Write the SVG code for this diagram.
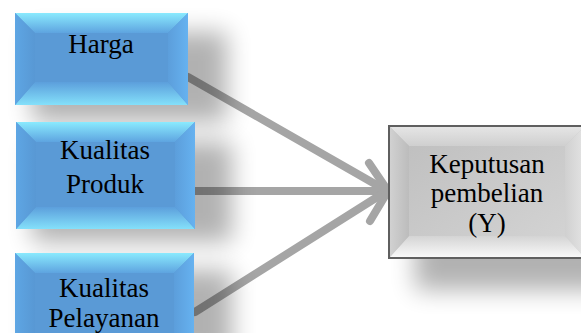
<svg xmlns="http://www.w3.org/2000/svg" width="581" height="333" viewBox="0 0 581 333">
<defs>
<filter id="blur" x="-50%" y="-50%" width="200%" height="200%"><feGaussianBlur stdDeviation="12"/></filter>
<linearGradient id="bTop" x1="0" y1="0" x2="0" y2="1"><stop offset="0" stop-color="#8aeafe"/><stop offset="1" stop-color="#5ea4e0"/></linearGradient>
<linearGradient id="bBot" x1="0" y1="0" x2="0" y2="1"><stop offset="0" stop-color="#5c9fdc"/><stop offset="1" stop-color="#84e0fa"/></linearGradient>
<linearGradient id="bLeft" x1="0" y1="0" x2="1" y2="0"><stop offset="0" stop-color="#5ea6e4"/><stop offset="1" stop-color="#5898d4"/></linearGradient>
<linearGradient id="bRight" x1="0" y1="0" x2="1" y2="0"><stop offset="0" stop-color="#5c9edb"/><stop offset="1" stop-color="#66b2f0"/></linearGradient>
<linearGradient id="gFace" x1="0" y1="0" x2="1" y2="1"><stop offset="0" stop-color="#bdbdbd"/><stop offset="1" stop-color="#d6d6d6"/></linearGradient>
<linearGradient id="gTop" x1="0" y1="0" x2="0" y2="1"><stop offset="0" stop-color="#e6e6e6"/><stop offset="1" stop-color="#cfcfcf"/></linearGradient>
<linearGradient id="gBot" x1="0" y1="0" x2="0" y2="1"><stop offset="0" stop-color="#d4d4d4"/><stop offset="1" stop-color="#fafafa"/></linearGradient>
<linearGradient id="gLeft" x1="0" y1="0" x2="1" y2="0"><stop offset="0" stop-color="#d2d2d2"/><stop offset="1" stop-color="#bcbcbc"/></linearGradient>
<linearGradient id="gRight" x1="0" y1="0" x2="1" y2="0"><stop offset="0" stop-color="#d0d0d0"/><stop offset="1" stop-color="#e4e4e4"/></linearGradient>
</defs>
<style>
.t{font-family:"Liberation Serif","DejaVu Serif",serif;font-size:27px;fill:#000;text-anchor:middle}
.conn{stroke:#a5a5a5;stroke-width:8;fill:none;stroke-linecap:round;stroke-linejoin:round}
.sh{fill:#000;opacity:0.3;filter:url(#blur)}
.face{fill:#5a9ad6}
.gf{fill:url(#gFace)}
</style>
<g id="connectors">
<line class="conn" x1="188" y1="77" x2="382" y2="188"/>
<line class="conn" x1="195" y1="191" x2="384" y2="191"/>
<line class="conn" x1="195" y1="312" x2="382" y2="194"/>
<polyline class="conn" points="369,163 388,191 370,221"/>
</g>
<g id="shadows">
<rect class="sh" x="32" y="32" width="195" height="90"/>
<rect class="sh" x="32" y="142" width="200" height="100"/>
<rect class="sh" x="32" y="270" width="200" height="90"/>
<rect class="sh" x="415" y="185" width="200" height="105"/>
</g>
<g id="harga">
<rect class="face" x="15" y="13" width="173" height="92"/>
<polygon fill="url(#bTop)" points="15,13 188,13 168,33 35,33"/>
<polygon fill="url(#bBot)" points="35,82 168,82 188,105 15,105"/>
<polygon fill="url(#bLeft)" points="15,13 35,33 35,82 15,105"/>
<polygon fill="url(#bRight)" points="188,13 188,105 168,82 168,33"/>
<text class="t" x="101" y="53">Harga</text>
</g>
<g id="kualitas-produk">
<rect class="face" x="16" y="122" width="179" height="107"/>
<polygon fill="url(#bTop)" points="16,122 195,122 175,142 36,142"/>
<polygon fill="url(#bBot)" points="36,207 175,207 195,229 16,229"/>
<polygon fill="url(#bLeft)" points="16,122 36,142 36,207 16,229"/>
<polygon fill="url(#bRight)" points="195,122 195,229 175,207 175,142"/>
<text class="t" x="105" y="159">Kualitas</text>
<text class="t" x="105" y="193">Produk</text>
</g>
<g id="kualitas-pelayanan">
<rect class="face" x="15" y="253" width="179" height="100"/>
<polygon fill="url(#bTop)" points="15,253 194,253 174,273 35,273"/>
<polygon fill="url(#bLeft)" points="15,253 35,273 35,353 15,353"/>
<polygon fill="url(#bRight)" points="194,253 194,353 174,353 174,273"/>
<text class="t" x="104" y="297">Kualitas</text>
<text class="t" x="104" y="327">Pelayanan</text>
</g>
<g id="keputusan">
<rect class="gf" x="389" y="126" width="196" height="132"/>
<polygon fill="url(#gTop)" points="389,126 585,126 565,146 409,146"/>
<polygon fill="url(#gBot)" points="409,236 565,236 585,258 389,258"/>
<polygon fill="url(#gLeft)" points="389,126 409,146 409,236 389,258"/>
<polygon fill="url(#gRight)" points="585,126 585,258 565,236 565,146"/>
<rect x="389" y="126" width="196" height="132" fill="none" stroke="#5f5f5f" stroke-width="2"/>
<text class="t" x="487" y="173">Keputusan</text>
<text class="t" x="487" y="202">pembelian</text>
<text class="t" x="487" y="232">(Y)</text>
</g>
</svg>
